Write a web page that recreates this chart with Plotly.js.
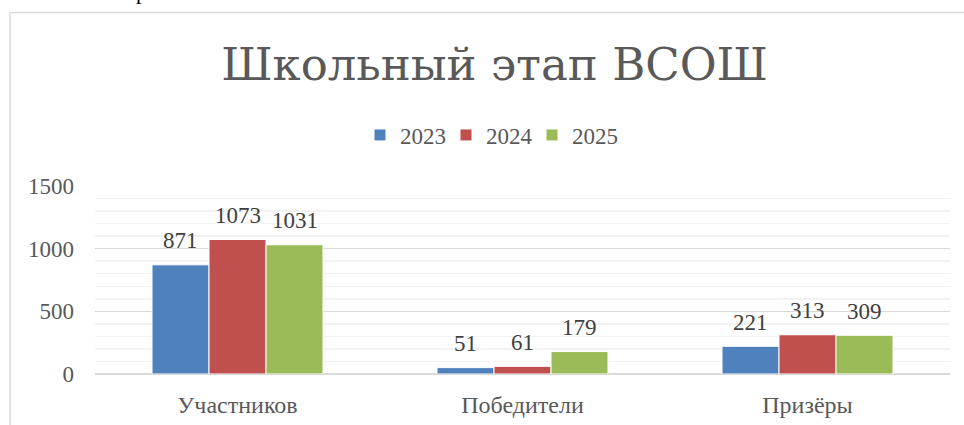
<!DOCTYPE html>
<html>
<head>
<meta charset="utf-8">
<script src="https://cdn.plot.ly/plotly-3.0.1.min.js"></script>
<style>html,body{margin:0;padding:0;background:#fff;}#chart{width:964px;height:425px;}</style>
</head>
<body>
<div id="chart"></div>
<script>
const categories = ["Участников", "Победители", "Призёры"];
const seriesNames = ["2023", "2024", "2025"];
const values2023 = [871, 51, 221];
const values2024 = [1073, 61, 313];
const values2025 = [1031, 179, 309];
const seriesColors = ["#4F81BD", "#C0504D", "#9BBB59"];
const yTicks = [0, 500, 1000, 1500];

const serif = "Liberation Serif";
const allValues = [values2023, values2024, values2025];
const traces = allValues.map((vals, i) => ({
  type: "bar",
  name: seriesNames[i],
  x: categories,
  y: vals,
  marker: {color: seriesColors[i], line: {color: "#ffffff", width: 1}},
  hoverinfo: "none"
}));

const W = 964, H = 425, mt = 186, mb = 51;
const ph = H - mt - mb;
const pw = W - 95 - 14;
const py = px => (H - mb - px) / ph;
const pxx = px => (px - 95) / pw;
const barPx = pw / categories.length * 0.6 / allValues.length;

// value labels above the bars
const labelAnn = [];
allValues.forEach((vals, i) => {
  vals.forEach((v, j) => {
    labelAnn.push({
      text: String(v), x: categories[j], y: v, xref: "x", yref: "y",
      xshift: (i - 1) * barPx, yshift: 24, yanchor: "middle", xanchor: "center",
      showarrow: false,
      font: {family: serif, size: 23, color: "#404040"}
    });
  });
});

const layout = {
  width: W, height: H,
  margin: {l: 95, r: 14, t: mt, b: mb},
  paper_bgcolor: "#ffffff",
  plot_bgcolor: "#ffffff",
  barmode: "group",
  bargap: 0.4,
  bargroupgap: 0,
  title: {
    text: "Школьный этап ВСОШ",
    font: {family: "DejaVu Serif", size: 45, color: "#595959"},
    x: 0.513, xref: "container", xanchor: "center",
    y: 1 - 64 / H, yref: "container", yanchor: "middle"
  },
  showlegend: true,
  legend: {
    orientation: "h",
    x: pxx(360), xanchor: "left",
    y: py(135), yanchor: "middle",
    font: {family: serif, size: 23, color: "#595959"},
    entrywidth: 41, entrywidthmode: "pixels",
    itemwidth: 30,
    traceorder: "normal"
  },
  xaxis: {
    showgrid: false,
    showline: false,
    zeroline: false,
    ticks: "",
    tickfont: {family: serif, size: 24, color: "#595959"},
    ticklabelstandoff: 14
  },
  yaxis: {
    range: [0, 1500],
    tickvals: yTicks,
    showgrid: true,
    gridcolor: "#d9d9d9",
    gridwidth: 1.5,
    zeroline: true,
    zerolinecolor: "#d9d9d9",
    zerolinewidth: 1.5,
    showline: false,
    ticks: "",
    tickfont: {family: serif, size: 23, color: "#595959"},
    ticklabelstandoff: 20,
    minor: {dtick: 100, showgrid: true, gridcolor: "#f2f2f2", gridwidth: 1.5}
  },
  shapes: [
    {type: "line", xref: "paper", yref: "paper",
     x0: pxx(10), x1: pxx(10),
     y0: py(12.5), y1: py(430), line: {color: "#d9d9d9", width: 1.5}, layer: "below"},
    {type: "line", xref: "paper", yref: "paper",
     x0: pxx(10), x1: pxx(970),
     y0: py(12.5), y1: py(12.5), line: {color: "#d9d9d9", width: 1.5}, layer: "below"}
  ],
  annotations: labelAnn.concat([
    {text: "р", xref: "paper", yref: "paper", showarrow: false,
     x: pxx(141), xanchor: "center",
     y: py(6), yanchor: "bottom",
     font: {family: serif, size: 22, color: "#000000"}}
  ])
};

Plotly.newPlot("chart", traces, layout, {displayModeBar: false, staticPlot: true});
</script>
</body>
</html>
